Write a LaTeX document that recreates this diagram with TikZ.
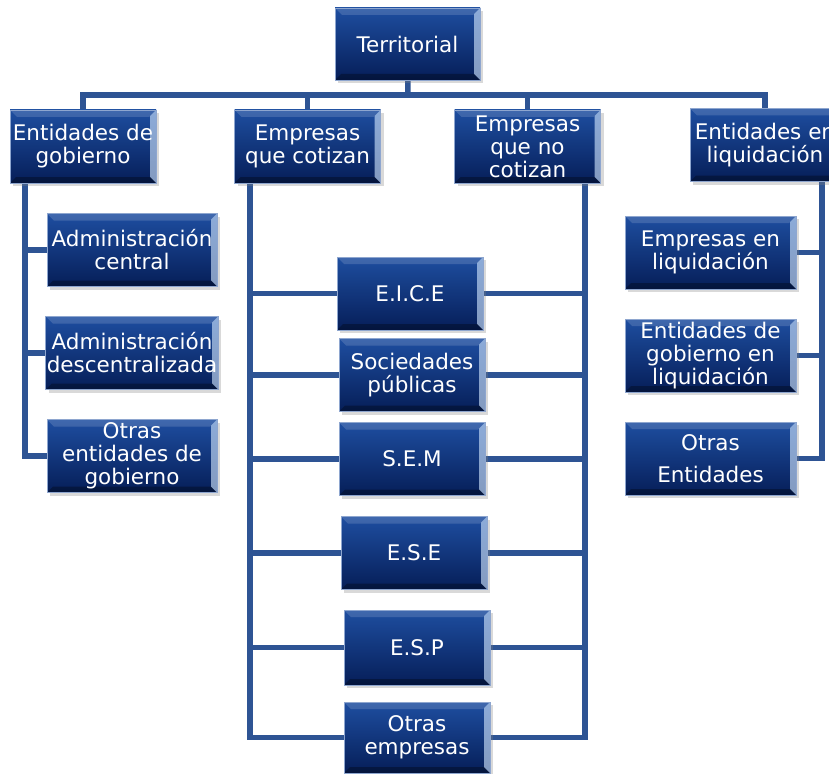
\documentclass[tikz,border=0pt]{standalone}
\usepackage{fontspec}
\setmainfont{DejaVu Sans}
\usetikzlibrary{shadows, backgrounds}
\definecolor{boxtop}{RGB}{30, 78, 160}
\definecolor{boxbot}{RGB}{6, 30, 88}
\definecolor{bevellight}{RGB}{200, 222, 248}
\definecolor{linkblue}{RGB}{46, 84, 148}
\tikzset{
  orgbox/.style={rectangle, draw=boxtop!50!white, line width=0.6pt, top color=boxtop, bottom color=boxbot,
    text=white, align=center, minimum width=146pt, minimum height=73pt, inner sep=1pt,
    font=\fontsize{21.5}{23}\selectfont,
    drop shadow={opacity=0.3, shadow xshift=3pt, shadow yshift=-3pt},
    path picture={
      \fill[white, opacity=0.15] (path picture bounding box.north west) -- (path picture bounding box.north east)
        -- ([shift={(-7pt,-7pt)}]path picture bounding box.north east) -- ([shift={(7pt,-7pt)}]path picture bounding box.north west) -- cycle;
      \fill[bevellight, opacity=0.65] (path picture bounding box.north east) -- (path picture bounding box.south east)
        -- ([shift={(-6pt,6pt)}]path picture bounding box.south east) -- ([shift={(-6pt,-6pt)}]path picture bounding box.north east) -- cycle;
      \fill[black, opacity=0.3] (path picture bounding box.south west) -- (path picture bounding box.south east)
        -- ([shift={(-6pt,6pt)}]path picture bounding box.south east) -- ([shift={(6pt,6pt)}]path picture bounding box.south west) -- cycle;
    }},
  widebox/.style={orgbox, minimum width=171pt},
  link/.style={draw=linkblue, line width=5.5pt},
}

\begin{document}
\begin{tikzpicture}[x=1pt, y=-1pt]
  \useasboundingbox (0,0) rectangle (829,773);
  % top level
  \node[orgbox, minimum width=145pt, minimum height=72pt] (terr) at (407.5,44) {Territorial};
  \node[orgbox] (eg) at (83,146.5) {Entidades de\\gobierno};
  \node[orgbox] (ec) at (307.5,146.5) {Empresas\\que cotizan};
  \node[orgbox] (enc) at (527.5,146.5) {Empresas\\que no\\cotizan};
  \node[orgbox, minimum width=150pt] (el) at (765,145) {Entidades en\\liquidación};
  % entidades de gobierno
  \node[widebox, minimum width=170pt] (ac) at (132,250) {Administración\\central};
  \node[widebox, minimum width=170pt] (adesc) at (132,353) {Administración\\descentralizada};
  \node[widebox, minimum width=170pt] (oeg) at (132,456) {Otras\\entidades de\\gobierno};
  % empresas
  \node[orgbox] (eice) at (410,293.5) {E.I.C.E};
  \node[orgbox] (socp) at (412,375) {Sociedades\\públicas};
  \node[orgbox] (sem) at (412,459) {S.E.M};
  \node[orgbox] (ese) at (414,553) {E.S.E};
  \node[orgbox, minimum height=75pt] (esp) at (417,647.5) {E.S.P};
  \node[orgbox, minimum height=71pt] (oemp) at (417,737.5) {Otras\\empresas};
  % en liquidacion
  \node[widebox] (elq) at (710.5,252.5) {Empresas en\\liquidación};
  \node[widebox] (egl) at (710.5,355.5) {Entidades de\\gobierno en\\liquidación};
  \node[widebox] (oent) at (710.5,458.5) {Otras\\[9pt]Entidades};

  \begin{scope}[on background layer]
    % bus under Territorial
    \coordinate (bus) at (408,95);
    \draw[link] (terr) -- (bus);
    \draw[link] (eg) |- (bus) -| (el);
    \draw[link] (ec) -- (ec |- bus);
    \draw[link] (enc) -- (enc |- bus);
    % left column
    \coordinate (lv) at ([xshift=-58pt]eg.south);
    \draw[link] (lv) |- (oeg);
    \draw[link] (lv |- ac) -- (ac);
    \draw[link] (lv |- adesc) -- (adesc);
    % middle ladder
    \coordinate (mvl) at ([xshift=-57.5pt]ec.south);
    \coordinate (mvr) at ([xshift=57.5pt]enc.south);
    \draw[link] (mvl) |- (oemp);
    \draw[link] (mvr) |- (oemp);
    \foreach \b in {eice, socp, sem, ese, esp} {
      \draw[link] (mvl |- \b) -- (\b);
      \draw[link] (mvr |- \b) -- (\b);
    }
    % right column
    \coordinate (rv) at ([xshift=57pt]el.south);
    \draw[link] (rv) |- (oent);
    \draw[link] (rv |- elq) -- (elq);
    \draw[link] (rv |- egl) -- (egl);
  \end{scope}
\end{tikzpicture}
\end{document}
